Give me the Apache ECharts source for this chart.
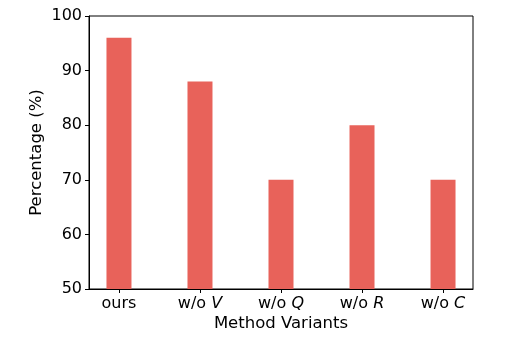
<!DOCTYPE html>
<html>
<head>
<meta charset="utf-8">
<script src="https://cdn.jsdelivr.net/npm/echarts@6/dist/echarts.min.js"></script>
<style>
  html, body { margin: 0; padding: 0; background: #fff; }
  #chart { width: 520px; height: 352px; }
</style>
</head>
<body>
<div id="chart"></div>
<script>
const methods = ['ours', 'V', 'Q', 'R', 'C'];
const positions = [0, 1, 2, 3, 4];
const percentages = [96, 88, 70, 80, 70];

const font = 'DejaVu Sans';
const chart = echarts.init(document.getElementById('chart'));

chart.setOption({
  animation: false,
  grid: {
    left: 89, right: 47, top: 16, bottom: 63,
    show: true, borderColor: '#000', borderWidth: 1
  },
  xAxis: {
    type: 'value',
    min: -0.37,
    max: 4.37,
    name: 'Method Variants',
    nameLocation: 'middle',
    nameGap: 26,
    nameMoveOverlap: false,
    nameTextStyle: { fontFamily: font, fontSize: 16.5, color: '#000' },
    splitLine: { show: false },
    axisLine: { onZero: false, lineStyle: { color: '#000', width: 1 } },
    axisTick: { show: true, length: 4, lineStyle: { color: '#000' }, customValues: positions },
    axisLabel: {
      customValues: positions,
      margin: 7,
      fontFamily: font, fontSize: 16, color: '#000',
      formatter: function (v) {
        const m = methods[Math.round(v)];
        return m === 'ours' ? m : 'w/o {i|' + m + '}';
      },
      rich: { i: { fontFamily: font, fontSize: 16, fontStyle: 'italic', color: '#000' } }
    }
  },
  yAxis: {
    type: 'value',
    min: 50,
    max: 100,
    interval: 10,
    name: 'Percentage (%)',
    nameLocation: 'middle',
    nameGap: 44,
    nameMoveOverlap: false,
    nameTextStyle: { fontFamily: font, fontSize: 16.5, color: '#000' },
    splitLine: { show: false },
    axisLine: { show: true, onZero: false, lineStyle: { color: '#000', width: 1 } },
    axisTick: { show: true, length: 4, lineStyle: { color: '#000' } },
    axisLabel: { margin: 7, fontFamily: font, fontSize: 16, color: '#000' }
  },
  series: [{
    type: 'bar',
    barWidth: 25,
    itemStyle: { color: '#E8625A' },
    data: positions.map((p, i) => [p, percentages[i]])
  }]
});
</script>
</body>
</html>
